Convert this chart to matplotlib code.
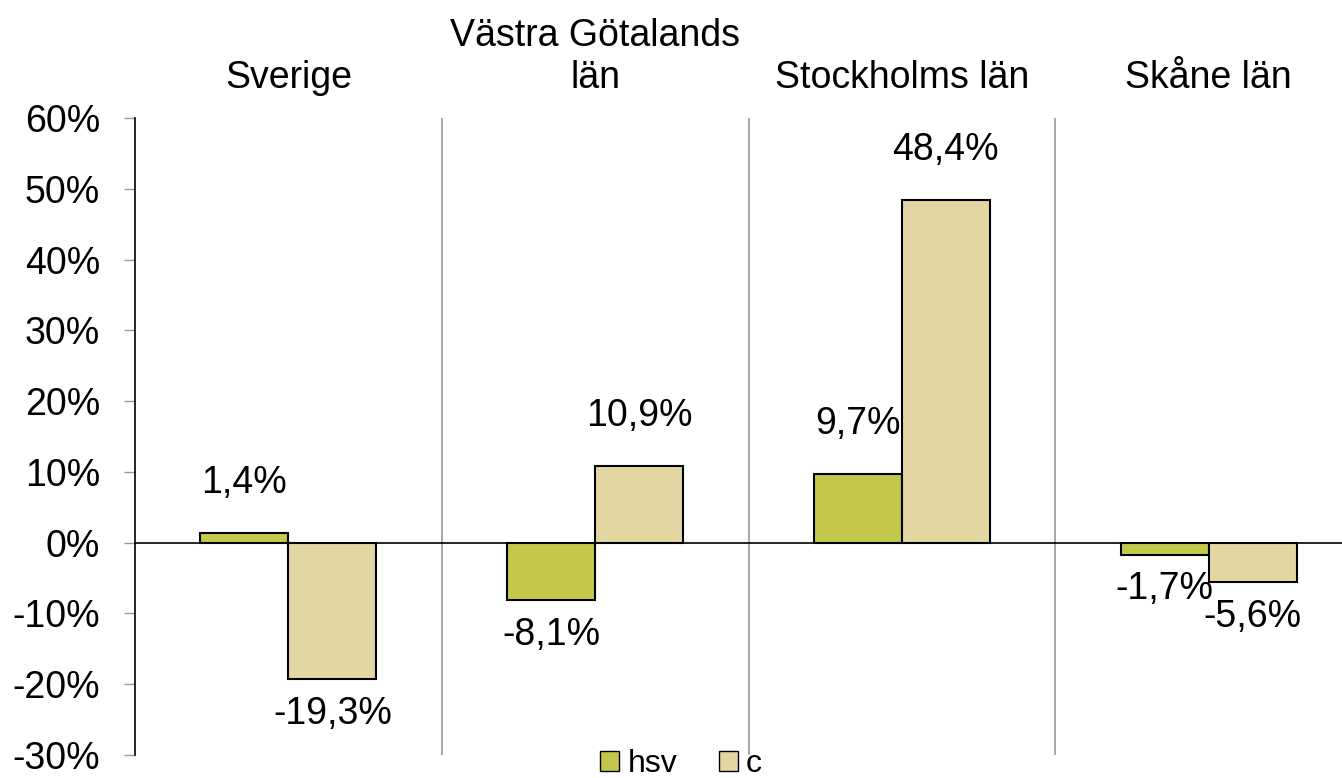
import matplotlib
matplotlib.use("Agg")
import matplotlib.pyplot as plt
import numpy as np
from matplotlib.patches import Patch

plt.rcParams['font.family'] = ['Liberation Sans', 'DejaVu Sans']

categories = ["Sverige", "Västra Götalands\nlän", "Stockholms län", "Skåne län"]
hsv = [1.4, -8.1, 9.7, -1.7]
c = [-19.3, 10.9, 48.4, -5.6]
yticks = [-30, -20, -10, 0, 10, 20, 30, 40, 50, 60]

W, H = 1342, 778
fig = plt.figure(figsize=(W / 100, H / 100), dpi=100)
left, right, top, bottom = 135, 1362, 118, 755
ax = fig.add_axes([left / W, 1 - bottom / H, (right - left) / W, (bottom - top) / H])

col_hsv = "#C4C84A"
col_c = "#E2D7A3"
FS = 27
x = np.arange(len(categories))
bw = 0.287
ax.bar(x - bw / 2, hsv, bw, color=col_hsv, edgecolor="black", linewidth=1.5, zorder=3)
ax.bar(x + bw / 2, c, bw, color=col_c, edgecolor="black", linewidth=1.5, zorder=3)

ax.set_xlim(-0.5, len(categories) - 0.5)
ax.set_ylim(-30, 60)
ax.set_yticks(yticks)
ax.set_yticklabels([f"{v}%" for v in yticks], fontsize=FS)
ax.tick_params(axis='y', length=8, color="#999999", width=1, pad=17)
ax.set_xticks([])
ax.axhline(0, color="black", linewidth=1.2, zorder=4)
for sp in ["top", "right", "bottom"]:
    ax.spines[sp].set_visible(False)
ax.spines["left"].set_color("black")
ax.spines["left"].set_linewidth(1.2)

for i in range(1, len(categories)):
    ax.axvline(i - 0.5, color="#999999", linewidth=1.2, zorder=1)

for i, name in enumerate(categories):
    ax.text(i, 63.1, name, ha="center", va="bottom", fontsize=FS, linespacing=1.2)

def lab(v):
    return f"{v:.1f}%".replace(".", ",")

for xs, vals in ((x - bw / 2, hsv), (x + bw / 2, c)):
    for xi, v in zip(xs, vals):
        if v >= 0:
            ax.annotate(lab(v), (xi, v), xytext=(0, 36), textcoords="offset points",
                        ha="center", va="center", fontsize=FS)
        else:
            ax.annotate(lab(v), (xi, v), xytext=(0, -25), textcoords="offset points",
                        ha="center", va="center", fontsize=FS)

handles = [Patch(facecolor=col_hsv, edgecolor="black", label="hsv"),
           Patch(facecolor=col_c, edgecolor="black", label="c")]
fig.legend(handles=handles, loc="center", bbox_to_anchor=(681 / W, 1 - 764 / H), ncol=2,
           frameon=False, fontsize=23, handlelength=0.6, handleheight=0.6,
           handletextpad=0.25, columnspacing=1.3, borderpad=0, borderaxespad=0)

fig.savefig("out.png", dpi=100)
